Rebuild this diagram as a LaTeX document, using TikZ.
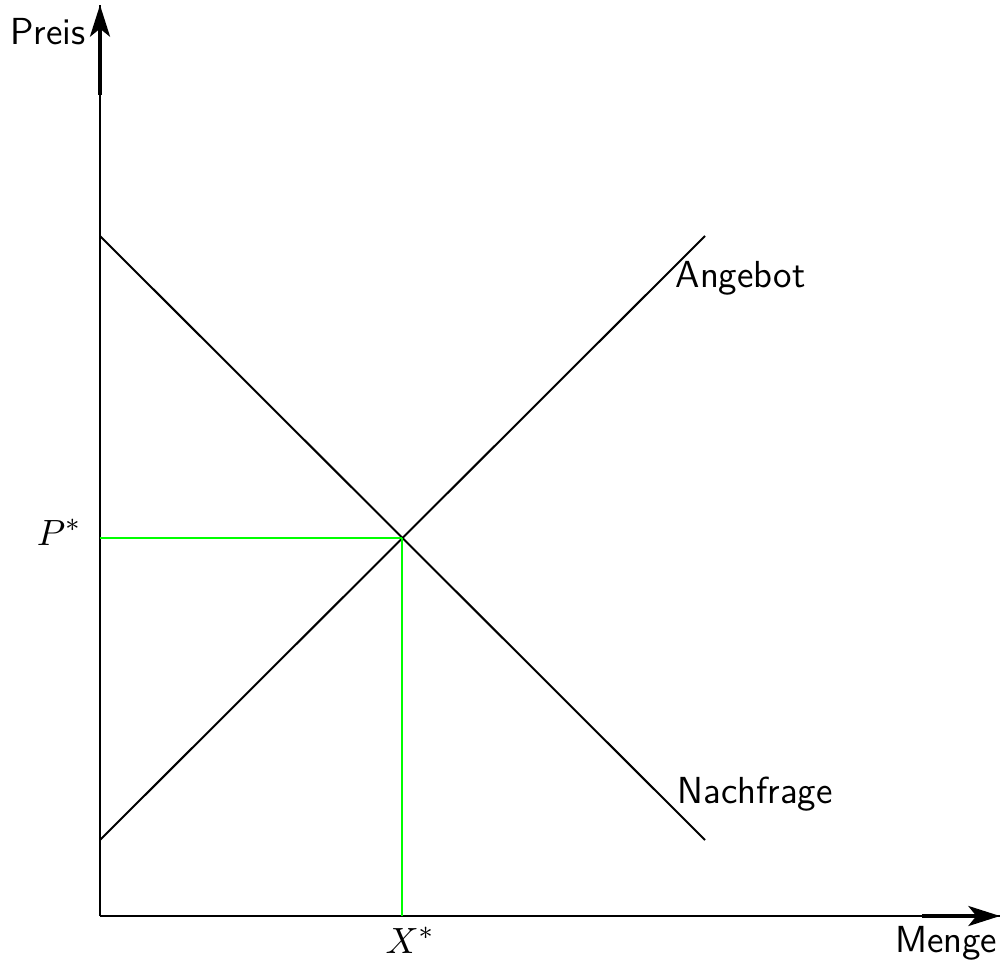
\documentclass[tikz,border=0pt]{standalone}
\usepackage{amsmath}
\usepackage{tikz}
\usetikzlibrary{arrows.meta, positioning, calc}
\definecolor{eqgreen}{RGB}{0,255,0}

\begin{document}
\begin{tikzpicture}[x=0.3pt, y=0.3pt,
  axis/.style={line width=0.6pt, draw=black},
  axistip/.style={line width=1.1pt, -{Stealth[length=9.5pt, width=6pt, inset=2.4pt]}},
  curve/.style={line width=0.6pt, draw=black},
  guide/.style={line width=0.45pt, draw=eqgreen},
  lbl/.style={font=\sffamily\fontsize{11.3}{13}\selectfont, inner sep=0pt},
  mlbl/.style={font=\fontsize{11.3}{13}\selectfont, inner sep=0pt}
]
\useasboundingbox (-100,-44) rectangle (901,916);
% axes
\coordinate (o) at (0,0);
\coordinate (ytop) at (0,911);
\coordinate (yk) at (0,821);
\coordinate (xend) at (900,0);
\coordinate (xk) at (822,0);
\draw[axis] (o) -- (ytop);
\draw[axis] (o) -- (xend);
\draw[axistip] (yk) -- (ytop);
\draw[axistip] (xk) -- (xend);
\node[lbl, anchor=base east] (preis) at (-14,871) {Preis};
\node[lbl, anchor=base east] (menge) at (898,-36) {Menge};
% curves
\coordinate (d1) at (0,680);
\coordinate (d2) at (605,76);
\coordinate (s1) at (0,76);
\coordinate (s2) at (605,680);
\draw[curve] (d1) -- (d2);
\draw[curve] (s1) -- (s2);
\node[lbl, anchor=base west] (angebot) at (575,629) {Angebot};
\node[lbl, anchor=base west] (nachfrage) at (577,113) {Nachfrage};
% equilibrium
\coordinate (eq) at (302,378);
\coordinate (py) at (0,378);
\coordinate (xx) at (302,0);
\draw[guide] (py) -- (eq);
\draw[guide] (eq) -- (xx);
\node[mlbl, anchor=base east] (pstar) at (-18,371) {$P^*$};
\node[mlbl, anchor=base] (xstar) at (310,-37) {$X^*$};
\end{tikzpicture}
\end{document}
